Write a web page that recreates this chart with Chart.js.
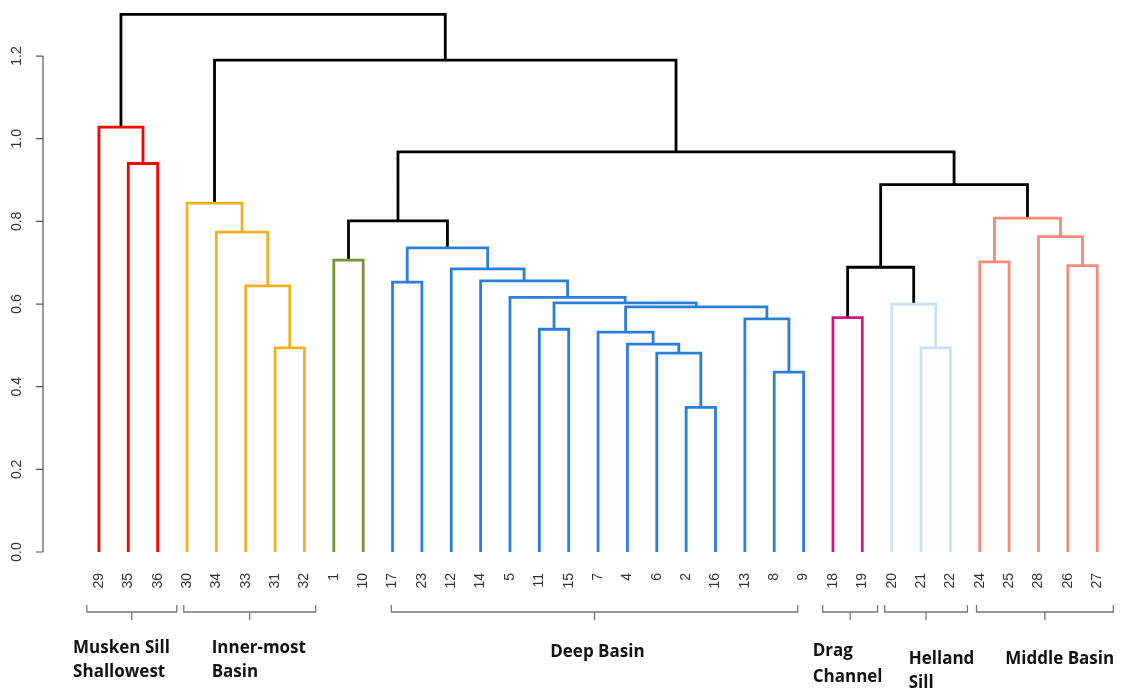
<!DOCTYPE html>
<html>
<head>
<meta charset="utf-8">
<script src="https://cdn.jsdelivr.net/npm/chart.js@4.4.0/dist/chart.umd.min.js"></script>
<style>
  body { margin: 0; background: #fff; }
  #wrap { width: 1121px; height: 691px; }
</style>
</head>
<body>
<div id="wrap"><canvas id="dendro" width="1121" height="691"></canvas></div>
<script>
// leaf order along the x axis (station numbers)
const leafLabels = ['29','35','36','30','34','33','31','32','1','10','17','23','12','14','5','11','15','7','4','6','2','16','13','8','9','18','19','20','21','22','24','25','28','26','27'];

// hclust style merge table: negative = station, positive = earlier merge row (1-based)
const mergeLeft   = [-2, -8, -6, -31, -21, -4, -7, -11, -13, -18, 7, -20, 8, -5, -33, -17, -14, -12, 10, -26, -24, -1, 16, -28, -34, 22, 21, -30, 19, -35, 26, -29, 28, 32];
const mergeRight  = [-16, -9, 1, -32, -22, 3, 6, -15, 2, -19, 9, 5, 11, 13, 4, -23, 14, 17, 12, -27, -25, -10, 18, 20, 15, 23, 24, 25, 27, -36, 29, 30, 31, 33];
const mergeHeight = [0.350, 0.435, 0.481, 0.494, 0.494, 0.503, 0.532, 0.539, 0.564, 0.567, 0.593, 0.600, 0.603, 0.616, 0.644, 0.653, 0.656, 0.685, 0.689, 0.693, 0.702, 0.706, 0.736, 0.763, 0.774, 0.801, 0.808, 0.844, 0.889, 0.940, 0.968, 1.028, 1.190, 1.301];

// coloured clusters: merge row that roots each cluster
const clusterRoots  = [32, 28, 22, 23, 10, 12, 27];
const clusterColors = ['#ff0000', '#f3b021', '#77933c', '#2b7fd8', '#d4177f', '#c8e1f9', '#f8897b'];

const yTicks = [0, 0.2, 0.4, 0.6, 0.8, 1.0, 1.2];

// region groups below the leaves
const groupNames = [['Musken Sill', 'Shallowest'], ['Inner-most', 'Basin'], ['Deep Basin'], ['Drag', 'Channel'], ['Helland', 'Sill'], ['Middle Basin']];
const groupFrom  = [0.59, 3.89, 10.96, 25.65, 27.76, 30.89];
const groupTo    = [3.65, 8.38, 24.80, 27.52, 30.58, 35.55];

// build node positions
const nodeX = [];
function childX(id) {
    return id < 0 ? leafLabels.indexOf(String(-id)) + 1 : nodeX[id - 1];
}
function childH(id) {
    return id < 0 ? 0 : mergeHeight[id - 1];
}
for (let i = 0; i < mergeHeight.length; i++) {
    nodeX.push((childX(mergeLeft[i]) + childX(mergeRight[i])) / 2);
}

// colours: walk from the root down
const mergeColor = mergeHeight.map(() => '#000000');
for (let i = mergeHeight.length - 1; i >= 0; i--) {
    const k = clusterRoots.indexOf(i + 1);
    if (k >= 0) mergeColor[i] = clusterColors[k];
    [mergeLeft[i], mergeRight[i]].forEach(c => {
        if (c > 0) mergeColor[c - 1] = mergeColor[i];
    });
}

const datasets = mergeHeight.map((h, i) => {
    const l = mergeLeft[i], r = mergeRight[i];
    return {
        data: [
            { x: childX(l), y: childH(l) },
            { x: childX(l), y: h },
            { x: childX(r), y: h },
            { x: childX(r), y: childH(r) }
        ],
        showLine: true,
        borderColor: mergeColor[i],
        borderWidth: 2.8,
        borderJoinStyle: 'miter',
        borderCapStyle: 'butt',
        pointRadius: 0,
        tension: 0,
        clip: false
    };
});

// R style y axis + group brackets
const extras = {
    id: 'extras',
    afterDraw(chart) {
        const ctx = chart.ctx;
        const ys = chart.scales.y, xs = chart.scales.x;
        const axX = chart.chartArea.left - 16;
        ctx.save();
        ctx.strokeStyle = '#555';
        ctx.lineWidth = 1.2;
        ctx.beginPath();
        ctx.moveTo(axX, ys.getPixelForValue(yTicks[0]));
        ctx.lineTo(axX, ys.getPixelForValue(yTicks[yTicks.length - 1]));
        yTicks.forEach(t => {
            const py = ys.getPixelForValue(t);
            ctx.moveTo(axX, py);
            ctx.lineTo(axX - 7, py);
        });
        ctx.stroke();
        ctx.fillStyle = '#333';
        ctx.font = '14px "Liberation Sans", Arial, sans-serif';
        ctx.textAlign = 'center';
        ctx.textBaseline = 'middle';
        yTicks.forEach(t => {
            const py = ys.getPixelForValue(t);
            ctx.save();
            ctx.translate(axX - 26, py);
            ctx.rotate(-Math.PI / 2);
            ctx.fillText(t.toFixed(1), 0, 0);
            ctx.restore();
        });

        // brackets
        const bTop = chart.chartArea.bottom + 39;
        const bLine = bTop + 7;
        ctx.strokeStyle = '#777';
        ctx.lineWidth = 1.3;
        groupFrom.forEach((f, i) => {
            const x0 = xs.getPixelForValue(f), x1 = xs.getPixelForValue(groupTo[i]);
            const xm = (x0 + x1) / 2;
            ctx.beginPath();
            ctx.moveTo(x0, bTop);
            ctx.lineTo(x0, bLine);
            ctx.lineTo(x1, bLine);
            ctx.lineTo(x1, bTop);
            ctx.moveTo(xm, bLine);
            ctx.lineTo(xm, bLine + 8);
            ctx.stroke();
        });

        // group names
        const textLeft = [0.12, 4.84, 16.37, 25.31, 28.58, 31.87];
        const textTop = [82, 82, 86, 85, 93, 93];
        const lineGap = [24, 24, 24, 26, 24, 24];
        ctx.fillStyle = '#111';
        ctx.font = 'bold 17px "Open Sans", "Noto Sans", sans-serif';
        ctx.textAlign = 'left';
        groupNames.forEach((lines, i) => {
            const px = xs.getPixelForValue(textLeft[i]);
            lines.forEach((s, j) => {
                ctx.fillText(s, px, chart.chartArea.bottom + textTop[i] + j * lineGap[i]);
            });
        });
        ctx.restore();
    }
};

new Chart(document.getElementById('dendro'), {
    type: 'scatter',
    data: { datasets: datasets },
    options: {
        responsive: false,
        animation: false,
        events: [],
        layout: { padding: { left: 59, right: 0, top: 8, bottom: 0 } },
        plugins: { legend: { display: false }, tooltip: { enabled: false } },
        scales: {
            x: {
                type: 'linear',
                min: -0.36,
                max: 35.68,
                grid: { display: false, drawTicks: false },
                border: { display: false },
                afterBuildTicks: s => { s.ticks = leafLabels.map((_, i) => ({ value: i + 1 })); },
                afterFit: s => { s.height = 125; },
                ticks: {
                    autoSkip: false,
                    minRotation: 90,
                    maxRotation: 90,
                    padding: 7,
                    color: '#333',
                    font: { family: '"Liberation Sans", Arial, sans-serif', size: 14 },
                    callback: v => leafLabels[v - 1]
                }
            },
            y: {
                display: false,
                min: -0.0339,
                max: 1.3163
            }
        }
    },
    plugins: [extras]
});
</script>
</body>
</html>
